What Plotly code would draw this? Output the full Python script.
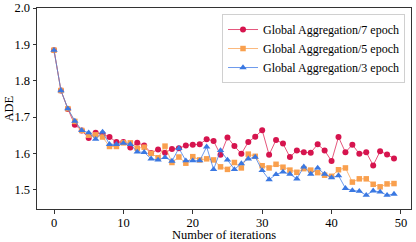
import plotly.graph_objects as go

iterations = list(range(50))

ade_7_epoch = [1.884, 1.773, 1.722, 1.679, 1.663, 1.642, 1.657, 1.653, 1.645, 1.631,
               1.631, 1.616, 1.629, 1.622, 1.601, 1.611, 1.602, 1.612, 1.614, 1.622,
               1.624, 1.625, 1.639, 1.634, 1.596, 1.644, 1.620, 1.599, 1.631, 1.646,
               1.664, 1.596, 1.637, 1.627, 1.590, 1.608, 1.603, 1.602, 1.625, 1.608,
               1.579, 1.645, 1.603, 1.624, 1.599, 1.603, 1.567, 1.606, 1.597, 1.586]

ade_5_epoch = [1.884, 1.773, 1.723, 1.688, 1.663, 1.650, 1.651, 1.645, 1.619, 1.619,
               1.629, 1.629, 1.614, 1.617, 1.600, 1.588, 1.620, 1.575, 1.590, 1.573,
               1.591, 1.582, 1.585, 1.582, 1.563, 1.556, 1.575, 1.560, 1.598, 1.592,
               1.566, 1.560, 1.570, 1.562, 1.554, 1.548, 1.558, 1.554, 1.547, 1.540,
               1.537, 1.555, 1.560, 1.521, 1.530, 1.530, 1.515, 1.508, 1.516, 1.517]

ade_3_epoch = [1.884, 1.773, 1.723, 1.689, 1.663, 1.657, 1.639, 1.659, 1.625, 1.625,
               1.628, 1.625, 1.604, 1.603, 1.585, 1.582, 1.589, 1.579, 1.614, 1.580,
               1.580, 1.580, 1.618, 1.556, 1.608, 1.582, 1.556, 1.572, 1.585, 1.590,
               1.553, 1.528, 1.542, 1.549, 1.543, 1.530, 1.563, 1.543, 1.560, 1.543,
               1.533, 1.539, 1.504, 1.498, 1.496, 1.485, 1.497, 1.494, 1.485, 1.488]

series_names = ["Global Aggregation/7 epoch", "Global Aggregation/5 epoch", "Global Aggregation/3 epoch"]
x_ticks = [0, 10, 20, 30, 40, 50]
y_ticks = [1.5, 1.6, 1.7, 1.8, 1.9, 2.0]
y_tick_labels = ["1.5", "1.6", "1.7", "1.8", "1.9", "2.0"]
x_title = "Number of iterations"
y_title = "ADE"

styles = [
    dict(line="rgba(220,30,80,0.75)", marker="#d6144e", symbol="circle", size=6),
    dict(line="rgba(250,160,80,0.75)", marker="#f9a04e", symbol="square", size=5.5),
    dict(line="rgba(60,120,230,0.75)", marker="#3a78e2", symbol="triangle-up", size=6.5),
]

fig = go.Figure()
for name, ys, st in zip(series_names, [ade_7_epoch, ade_5_epoch, ade_3_epoch], styles):
    fig.add_trace(go.Scatter(
        x=iterations, y=ys, name=name, mode="lines+markers",
        line=dict(color=st["line"], width=1),
        marker=dict(color=st["marker"], symbol=st["symbol"], size=st["size"],
                    line=dict(width=0)),
    ))

font = "Liberation Serif, Times New Roman, serif"
axis_common = dict(showline=True, linecolor="#333333", linewidth=1, mirror=True,
                   ticks="outside", ticklen=3.5, tickwidth=1, tickcolor="#333333",
                   showgrid=False, zeroline=False, automargin=False,
                   tickfont=dict(family=font, size=12.5, color="#000000"))

fig.update_layout(
    width=416, height=242,
    margin=dict(l=37, r=5, t=8, b=33, autoexpand=False),
    paper_bgcolor="white", plot_bgcolor="white",
    font=dict(family=font, size=12, color="#000000"),
    xaxis=dict(range=[-2.45, 51.45], tickvals=x_ticks, ticklabelstandoff=-2, **axis_common),
    yaxis=dict(range=[1.447, 2.0], tickvals=y_ticks, ticktext=y_tick_labels, **axis_common),
    legend=dict(x=0.984, y=0.97, xanchor="right", yanchor="top",
                bgcolor="rgba(255,255,255,0.85)", bordercolor="#d0d0d0", borderwidth=1,
                font=dict(family=font, size=12), itemwidth=30, tracegroupgap=0),
    showlegend=True,
    annotations=[
        dict(text=x_title, xref="paper", yref="paper", x=0.5, y=-0.13,
             xanchor="center", yanchor="middle", showarrow=False,
             font=dict(family=font, size=12.5)),
        dict(text=y_title, xref="paper", yref="paper", x=-0.075, y=0.5,
             xanchor="center", yanchor="middle", showarrow=False, textangle=-90,
             font=dict(family=font, size=12.5)),
    ],
)

fig.write_html("out.html", config={"displayModeBar": False},
               post_script="document.body.style.margin='0';document.body.style.overflow='hidden';")
